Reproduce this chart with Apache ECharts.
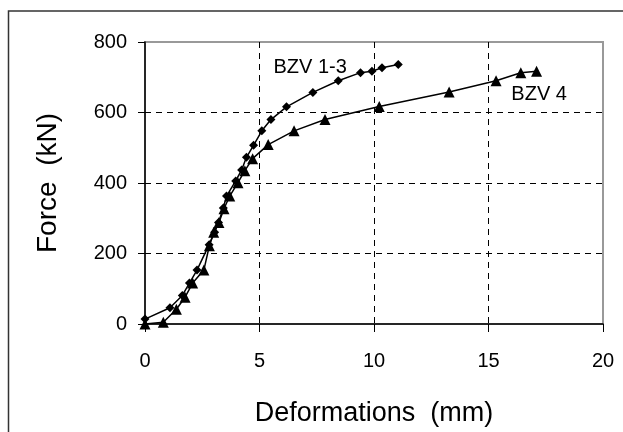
<!DOCTYPE html>
<html>
<head>
<meta charset="utf-8">
<script src="https://cdn.jsdelivr.net/npm/echarts@6/dist/echarts.min.js"></script>
<style>html,body{margin:0;padding:0;background:#fff}#c{width:623px;height:432px}</style>
</head>
<body>
<div id="c"></div>
<script>
const xTicks = [0, 5, 10, 15, 20];
const yTicks = [0, 200, 400, 600, 800];
const bzv13 = [
  [0, 14], [1.09, 46], [1.63, 81], [1.94, 116], [2.27, 153], [2.8, 225], [3.04, 260],
  [3.21, 288], [3.42, 329], [3.56, 363], [3.96, 406], [4.22, 437], [4.43, 473],
  [4.74, 507], [5.1, 548], [5.5, 580], [6.18, 616], [7.33, 657], [8.44, 690],
  [9.41, 713], [9.91, 717], [10.35, 727], [11.06, 736]
];
const bzv4 = [
  [0, 0], [0.8, 5], [1.37, 42], [1.75, 76], [2.08, 116], [2.57, 153], [2.81, 222],
  [3.0, 260], [3.23, 288], [3.45, 327], [3.7, 363], [4.06, 401], [4.36, 435],
  [4.7, 469], [5.38, 509], [6.51, 548], [7.86, 580], [10.23, 617], [13.28, 658],
  [15.33, 690], [16.41, 713], [17.1, 717]
];
const labels = [
  { name: 'BZV 1-3', coord: [7.21, 727] },
  { name: 'BZV 4', coord: [17.21, 650] }
];

const font = 'Liberation Sans, Arial, sans-serif';
const chart = echarts.init(document.getElementById('c'), null, { renderer: 'canvas' });
const dash = { color: '#000', width: 1, type: [6, 5] };
chart.setOption({
  animation: false,
  backgroundColor: '#fff',
  textStyle: { fontFamily: font },
  graphic: [
    { type: 'rect', z: -1, shape: { x: 8.5, y: 11, width: 700, height: 500 },
      style: { fill: 'none', stroke: '#333', lineWidth: 1.5 } }
  ],
  grid: { left: 145, right: 20, top: 42, bottom: 103, show: true,
          borderColor: '#999', borderWidth: 2, backgroundColor: 'transparent' },
  xAxis: {
    type: 'value', min: 0, max: 20, interval: 5,
    name: 'Deformations  (mm)', nameLocation: 'middle', nameGap: 76,
    nameTextStyle: { fontSize: 27, color: '#000', fontFamily: font },
    axisLine: { show: true, onZero: false, lineStyle: { color: '#000', width: 1.5 } },
    axisTick: { show: true, inside: false, length: 8, lineStyle: { color: '#000', width: 1 } },
    axisLabel: { fontSize: 20, color: '#000', margin: 27, fontFamily: font,
                 formatter: v => xTicks.includes(v) ? String(v) : '' },
    splitLine: { show: true, showMinLine: false, showMaxLine: false, lineStyle: dash }
  },
  yAxis: {
    type: 'value', min: 0, max: 800, interval: 200,
    name: 'Force  (kN)', nameLocation: 'middle', nameGap: 83,
    nameTextStyle: { fontSize: 28, color: '#000', fontFamily: font },
    axisLine: { show: true, onZero: false, lineStyle: { color: '#000', width: 1.5 } },
    axisTick: { show: true, inside: false, length: 7, lineStyle: { color: '#000', width: 1 } },
    axisLabel: { fontSize: 20, color: '#000', margin: 18, fontFamily: font,
                 formatter: v => yTicks.includes(v) ? String(v) : '' },
    splitLine: { show: true, showMinLine: false, showMaxLine: false, lineStyle: dash }
  },
  series: [
    {
      name: 'BZV 1-3', type: 'line', data: bzv13, symbol: 'diamond', symbolSize: 9,
      lineStyle: { color: '#000', width: 1.5 }, itemStyle: { color: '#000' },
      markPoint: {
        symbol: 'rect', symbolSize: 0,
        label: { show: true, position: 'inside', formatter: p => p.name,
                 fontSize: 20, color: '#000', fontFamily: font },
        data: labels.slice(0, 1)
      }
    },
    {
      name: 'BZV 4', type: 'line', data: bzv4, symbol: 'triangle', symbolSize: 11,
      lineStyle: { color: '#000', width: 1.5 }, itemStyle: { color: '#000' },
      markPoint: {
        symbol: 'rect', symbolSize: 0,
        label: { show: true, position: 'inside', formatter: p => p.name,
                 fontSize: 20, color: '#000', fontFamily: font },
        data: labels.slice(1)
      }
    }
  ]
});
</script>
</body>
</html>
